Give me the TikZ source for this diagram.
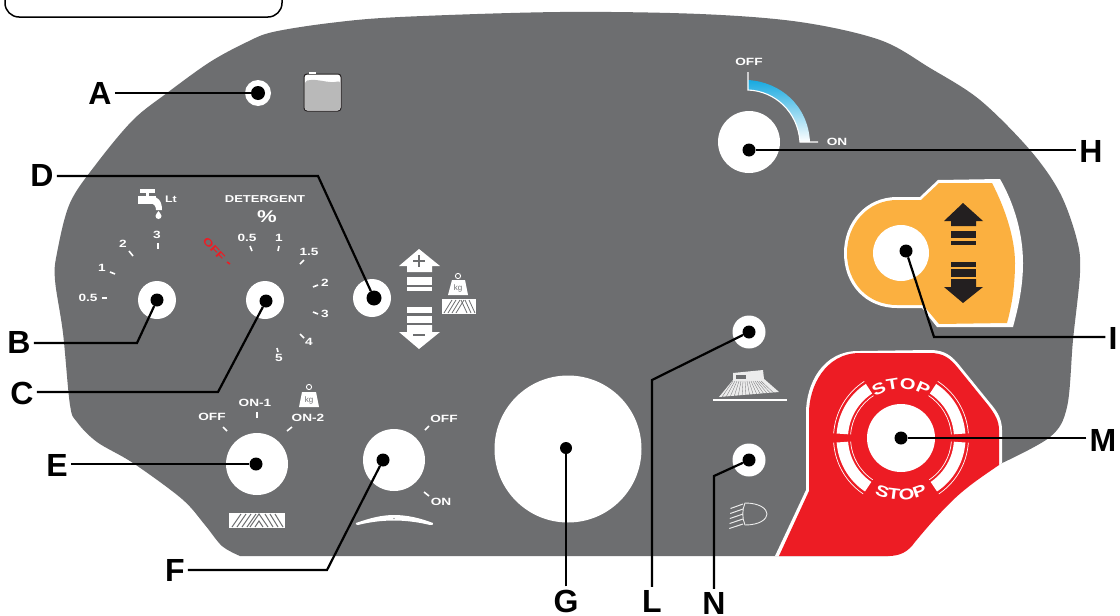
\documentclass[tikz,border=0pt]{standalone}
\usepackage{fontspec}
\setmainfont{Liberation Sans}
\newfontfamily\widef[FakeStretch=1.3]{Liberation Sans Bold}
\usetikzlibrary{decorations.text}
\definecolor{panel}{HTML}{6D6E70}
\definecolor{redp}{HTML}{ED1C24}
\definecolor{orangep}{HTML}{FBB040}
\definecolor{darkic}{HTML}{231F20}
\definecolor{bluep}{HTML}{17A9E0}
\tikzset{
  letter/.style={font=\fontsize{32}{32}\selectfont\bfseries,inner sep=0pt,text=black},
  lead/.style={draw=black,line width=2.2pt,line join=miter,shorten <=3pt},
  knob/.style={circle,fill=white,inner sep=0pt},
  pin/.style={circle,fill=black,minimum size=15pt,inner sep=0pt},
  dial/.style={font=\widef\fontsize{10.5}{10.5}\selectfont,text=white,inner sep=0pt},
  tick/.style={draw=white,line width=1.6pt},
  redtick/.style={draw=redp,line width=1.6pt},
}
\begin{document}
\begin{tikzpicture}[x=1pt,y=-1pt]
\useasboundingbox (0,0) rectangle (1120,616);
\fill[white] (0,0) rectangle (1120,616);
% label box
\draw[black,line width=1.5pt,rounded corners=14pt] (5,-30) rectangle (282,17);
% panel
\fill[panel] plot[smooth,tension=0.55] coordinates {(240,556) (222,546) (205,525) (182,499) (133,463) (97,442) (77,422) (70,405) (63,333) (55,280) (57,253) (70,203) (97,163) (133,120) (167,93) (210,62) (247,42) (273,32) (330,23) (400,17) (560,12) (700,14) (800,22) (880,40) (930,68) (980,100) (1030,150) (1060,193) (1077,240) (1080,273) (1073,340) (1067,407) (1050,437) (1000,464)} -- (940,505) -- (890,556) -- cycle;
% tank
\fill[white,draw=darkic,line width=1pt,rounded corners=3pt] (304,74) rectangle (341,111);
\fill[gray!55!white,rounded corners=2pt] (305,81) .. controls (318,78) and (328,84) .. (340,81) -- (340,110) -- (305,110) -- cycle;
\fill[white] (309,72) rectangle (316,74);
% dial B
\draw[tick,line width=2.4pt] (102,298) -- (107,298);
\draw[tick] (110,272) -- (115,274);
\draw[tick] (129,251) -- (133,256);
\draw[tick] (158,243) -- (158,249);
\node[dial] (t05) at (88,298) {0.5};
\node[dial] (t1) at (102,268) {1};
\node[dial] (t2) at (123,244) {2};
\node[dial] (t3) at (157,235) {3};
% tap
\fill[white] (138,196) rectangle (156,203.5);
\fill[white] (146,192) rectangle (149,196);
\fill[white] (140,189) rectangle (155,192.5);
\fill[white] (150,196) .. controls (158,196) and (162,201) .. (162,210) -- (156,210) .. controls (156,206) and (154,203.5) .. (150,203.5) -- cycle;
\fill[white] (158.5,211) .. controls (157.5,213) and (155.5,214) .. (155.5,216) arc[start angle=180,delta angle=-180,radius=3] .. controls (161.5,214) and (159.5,213) .. (158.5,211) -- cycle;
\node[dial,font=\widef\fontsize{9.5}{9.5}\selectfont] (lt) at (171,199) {Lt};
% detergent
\node[dial,font=\widef\fontsize{10}{10}\selectfont] (det) at (265,199) {DETERGENT};
\node[dial,font=\widef\fontsize{17}{17}\selectfont] (pct) at (267,217) {\%};
\node[font=\widef\fontsize{10.5}{10.5}\selectfont,text=redp,inner sep=0pt,rotate=-47] (off) at (214,249) {OFF};
\draw[redtick] (227,262) -- (230,264);
\draw[tick] (250,246) -- (252,251);
\draw[tick] (279,246) -- (278,251);
\draw[tick] (304,260) -- (300,264);
\draw[tick] (318,285) -- (313,287);
\draw[tick] (313,312) -- (318,314);
\draw[tick] (300,334) -- (304,338);
\draw[tick] (277,348) -- (278,352);
\node[dial] (d05) at (247,238) {0.5};
\node[dial] (d1) at (279,238) {1};
\node[dial] (d15) at (309,252) {1.5};
\node[dial] (d2) at (325,283) {2};
\node[dial] (d3) at (325,314) {3};
\node[dial] (d4) at (309,342) {4};
\node[dial] (d5) at (279,358) {5};
% up/down white
\fill[white] (419,249) -- (440,266) -- (432,266) -- (432,272) -- (407,272) -- (407,266) -- (399,266) -- cycle;
\fill[white] (407,277) rectangle (432,285);
\fill[white] (407,287) rectangle (432,291);
\fill[white] (407,307) rectangle (432,313);
\fill[white] (407,316) rectangle (432,323);
\fill[white] (407,325) -- (432,325) -- (432,332) -- (440,332) -- (419,349) -- (399,332) -- (407,332) -- cycle;
\draw[panel,line width=1.2pt] (413,261) -- (425,261) (419,255) -- (419,267);
\draw[panel,line width=1.2pt] (413,335) -- (425,335);
% weight 1
\draw[white,line width=0.9pt] (458,276) circle (2.6);
\fill[white] (452,280) -- (465,280) -- (468,295) -- (448,295) -- cycle;
\node[font=\fontsize{8}{8}\selectfont,text=panel,inner sep=0pt] (kg1) at (458,288) {kg};
\fill[white] (442,299) rectangle (476,314);
\foreach \x in {444,448,452,456} \draw[panel,line width=0.8pt] (\x,313) -- (\x+8,300);
\foreach \x in {461,465,469} \draw[panel,line width=0.8pt] (\x,300) -- (\x+6,313);
% weight 2
\draw[white,line width=0.9pt] (309,387) circle (2.6);
\fill[white] (302,392) -- (316,392) -- (319,407) -- (299,407) -- cycle;
\node[font=\fontsize{8}{8}\selectfont,text=panel,inner sep=0pt] (kg2) at (309,400) {kg};
\fill[white] (229,513) rectangle (285,528);
\foreach \x in {232,237,242,247} \draw[panel,line width=1pt] (\x,527) -- (\x+9,514);
\draw[panel,line width=1pt] (250,527) -- (259,514) -- (268,527);
\draw[panel,line width=1pt] (255,527) -- (259,521) -- (263,527);
\foreach \x in {265,270,275} \draw[panel,line width=1pt] (\x,514) -- (\x+8,527);
% dial E
\draw[tick] (223,427) -- (227,431);
\draw[tick] (257,412) -- (257,418);
\draw[tick] (292,427) -- (287,431);
\node[dial] (eoff) at (212,417) {OFF};
\node[dial] (eon1) at (255,403) {ON-1};
\node[dial] (eon2) at (308,418) {ON-2};
% dial F
\draw[tick] (429,426) -- (425,430);
\draw[tick] (424,492) -- (429,496);
\node[dial] (foff) at (444,419) {OFF};
\node[dial] (fon) at (441,502) {ON};
\fill[white] (356,523) .. controls (370,518) and (382,515) .. (394,515) .. controls (407,515) and (420,518) .. (433,523) .. controls (434,525) and (432,525) .. (430,525) .. controls (418,522) and (405,520.5) .. (394,520.5) .. controls (382,520.5) and (370,522) .. (358,525) .. controls (356,525) and (355,524) .. (356,523) -- cycle;
\fill[panel] (394,518.5) circle (0.6);
% H arc
\shade[top color=bluep,middle color=bluep!65!white,bottom color=white] (748,80) .. controls (780,82) and (808,105) .. (810,142) -- (800,142) .. controls (798,112) and (775,91) .. (748,90) -- cycle;
\draw[white,line width=1.1pt] (748,72) -- (748,90) .. controls (775,91) and (798,112) .. (800,142) -- (818,142);
\node[dial] (hoff) at (749,62) {OFF};
\node[dial] (hon) at (837,142) {ON};
% orange
\fill[white] (897,197) -- (920,197) -- (938,180) -- (1000,179)
  .. controls (1015,205) and (1023,235) .. (1023,263)
  .. controls (1023,285) and (1019,305) .. (1013,327)
  -- (937,327) -- (922,308) -- (897,308)
  .. controls (866,308) and (844,285) .. (844,253)
  .. controls (844,222) and (866,197) .. (897,197) -- cycle;
\fill[orangep] (897,200) -- (921,200) -- (939,183) -- (992,183)
  .. controls (1005,208) and (1015,238) .. (1015,263)
  .. controls (1015,285) and (1012,305) .. (1007,323)
  -- (939,324) -- (923,305) -- (897,305)
  .. controls (868,305) and (847,283) .. (847,253)
  .. controls (847,224) and (868,200) .. (897,200) -- cycle;
\fill[darkic] (963,203) -- (983,221) -- (976,221) -- (976,226) -- (951,226) -- (951,221) -- (944,221) -- cycle;
\fill[darkic] (951,231) rectangle (976,238);
\fill[darkic] (951,241) rectangle (976,245);
\fill[darkic] (951,262) rectangle (976,267);
\fill[darkic] (951,269) rectangle (976,277);
\fill[darkic] (951,279) -- (976,279) -- (976,287) -- (983,287) -- (963,303) -- (944,287) -- (951,287) -- cycle;
% red
\fill[white] (775,556) -- (806,490) -- (806,413)
  .. controls (806,385) and (822,350) .. (860,351)
  -- (930,350) .. controls (945,350) and (952,356) .. (960,366)
  -- (990,403) .. controls (998,412) and (1002,420) .. (1002,430)
  -- (1002,463) -- (950,500) -- (890,556) -- cycle;
\fill[redp] (779,556) -- (809,491) -- (809,413)
  .. controls (809,387) and (825,353) .. (860,353)
  -- (930,353) .. controls (943,353) and (950,358) .. (958,368)
  -- (988,405) .. controls (995,414) and (999,421) .. (999,430)
  -- (999,465) .. controls (980,478) and (965,488) .. (950,503)
  .. controls (935,518) and (925,530) .. (915,542)
  .. controls (908,552) and (900,556) .. (888,556) -- cycle;
\begin{scope}[x=1pt,y=1pt,shift={(901pt,-438pt)}]
  \foreach \a/\b in {176/123,57/4,184/236,304/356}{
    \fill[white] (\a:53) arc[start angle=\a,end angle=\b,radius=53] -- (\b:64.5) arc[start angle=\b,end angle=\a,radius=64.5] -- cycle;
    \draw[white,line width=0.7pt] (\a:67.5) arc[start angle=\a,end angle=\b,radius=67.5];
    \draw[white,line width=0.7pt] (\a:50.5) arc[start angle=\a,end angle=\b,radius=50.5];
  }
  \path[decorate,decoration={text effects along path,text={STOP},text align=center,text effects/.cd,text along path,characters={text=white,font=\widef\fontsize{15.5}{15.5}\selectfont}}] (128:49) arc[start angle=128,end angle=52,radius=49];
  \path[decorate,decoration={text effects along path,text={STOP},text align=center,text effects/.cd,text along path,characters={text=white,font=\widef\fontsize{15.5}{15.5}\selectfont}}] (232:62) arc[start angle=232,end angle=308,radius=62];
\end{scope}
% brush
\draw[white,line width=1.2pt] (713,400) -- (787,400);
\fill[white!85!gray] (733,380) -- (763,378) -- (779,392) -- (719,397) -- cycle;
\foreach \x in {722,726,...,778} \draw[panel,line width=0.3pt] (\x,397) -- (733+\x/2-361,381);
\fill[white!85!gray] (733,373) -- (763,370) -- (764,379) -- (733,381) -- cycle;
\fill[panel] (736,374.5) rectangle (746,379);
% lamp
\draw[white!85!gray,line width=0.9pt] (745,503) .. controls (760,503) and (767,509) .. (767,514) .. controls (767,519) and (760,525) .. (745,525) .. controls (742,518) and (742,510) .. (745,503) -- cycle;
\foreach \i in {0,1,2,3,4} \draw[white!85!gray,line width=1pt] (730.5-0.3*\i,508.5+5*\i) -- (743,504+5*\i);
% knobs and leaders
\node[knob,minimum size=26pt] (kA) at (258,93) {};
\node[knob,minimum size=38pt] (kB) at (157,300) {};
\node[knob,minimum size=38pt] (kC) at (265,300) {};
\node[knob,minimum size=38pt] (kD) at (372,298) {};
\node[knob,minimum size=62pt] (kE) at (257,464) {};
\node[knob,minimum size=62pt] (kF) at (394,460) {};
\node[knob,minimum size=147pt] (kG) at (568,449) {};
\node[knob,minimum size=62pt] (kH) at (749,142) {};
\node[knob,minimum size=56pt] (kI) at (901,253) {};
\node[knob,minimum size=33pt] (kL) at (749,332) {};
\node[knob,minimum size=33pt] (kN) at (749,460) {};
\node[knob,minimum size=68pt] (kM) at (901,438) {};
\node[pin,minimum size=14pt] (pA) at (258,93) {};
\node[pin,minimum size=13pt] (pB) at (157,300) {};
\node[pin,minimum size=13pt] (pC) at (266,301) {};
\node[pin] (pD) at (374,298) {};
\node[pin,minimum size=13pt] (pE) at (256,464) {};
\node[pin,minimum size=13pt] (pF) at (383,460) {};
\node[pin,minimum size=12pt] (pG) at (566,448) {};
\node[pin,minimum size=13pt] (pH) at (749,150) {};
\node[pin,minimum size=13pt] (pI) at (906,251) {};
\node[pin,minimum size=13pt] (pL) at (749,332) {};
\node[pin,minimum size=13pt] (pN) at (749,460) {};
\node[pin,minimum size=13pt] (pM) at (901,438) {};
\node[letter] (A) at (100,93) {A};
\node[letter] (B) at (19,342) {B};
\node[letter] (C) at (22,393) {C};
\node[letter] (D) at (42,175) {D};
\node[letter] (E) at (57,465) {E};
\node[letter] (F) at (175,570) {F};
\node[letter] (G) at (566,601) {G};
\node[letter] (H) at (1091,151) {H};
\node[letter] (I) at (1113,338) {I};
\node[letter] (L) at (652,601) {L};
\node[letter] (M) at (1103,440) {M};
\node[letter] (N) at (714,603) {N};
\coordinate (bend-b) at (137,343);
\coordinate (bend-c) at (218,392);
\coordinate (bend-d) at (318,176);
\coordinate (bend-f) at (327,570);
\coordinate (bend-i) at (934,337);
\coordinate (bend-l) at (652,380);
\coordinate (bend-n) at (714,476);
\draw[lead] (A.east) -- (pA);
\draw[lead] (B.east |- bend-b) -- (bend-b) -- (pB);
\draw[lead] (C.east |- bend-c) -- (bend-c) -- (pC);
\draw[lead] (D.east |- bend-d) -- (bend-d) -- (pD);
\draw[lead] (E.east |- pE) -- (pE);
\draw[lead] (F.east |- bend-f) -- (bend-f) -- (pF);
\draw[lead] (G.north -| pG) -- (pG);
\draw[lead] (H.west |- pH) -- (pH);
\draw[lead] (I.west |- bend-i) -- (bend-i) -- (pI);
\draw[lead] (L.north) -- (bend-l) -- (pL);
\draw[lead] (M.west |- pM) -- (pM);
\draw[lead] (N.north) -- (bend-n) -- (pN);
\end{tikzpicture}
\end{document}
